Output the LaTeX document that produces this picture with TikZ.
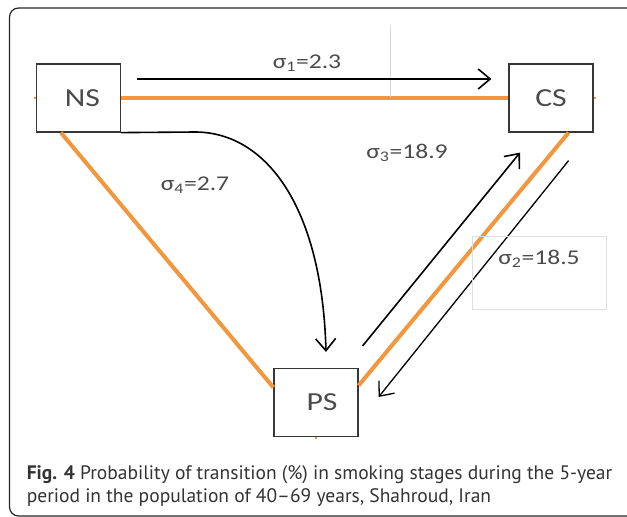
\documentclass[tikz,border=0pt]{standalone}
\usepackage{fontspec}
\setmainfont{PT Sans}
\newfontfamily\calibri[FakeStretch=1.22]{Carlito}
\usepackage{xcolor}
\usetikzlibrary{arrows.meta}
\definecolor{linkorange}{RGB}{243,150,62}
\definecolor{boxgray}{RGB}{55,55,55}
\definecolor{textgray}{RGB}{75,75,75}

\begin{document}
\begin{tikzpicture}[
			x=1pt, y=-1pt,
			>={Straight Barb[length=12pt,width=20pt]}, line width=1.6pt,
			stage/.style={draw=boxgray,fill=white,line width=1.2pt,minimum width=84pt,minimum height=68pt,
					inner sep=0pt,font=\calibri\fontsize{26}{30}\selectfont,text=textgray}, % smoking stage box
			link/.style={draw=linkorange,line width=4pt}, % orange edge of the triangle
			rate/.style={font=\calibri\fontsize{21}{25}\selectfont,text=textgray,inner sep=0pt}, % transition label
			caption/.style={anchor=base west,inner sep=0pt,font=\fontsize{19.5}{23}\selectfont,text=black!80},
		]
		\useasboundingbox (0,0) rectangle (627,517);
		\draw[rounded corners=9pt,line width=1.2pt,draw=black!85] (9.5,8) rectangle (660,516);

		% --- the three stages
		\node[stage] (ns) at (78.5,98) {\hspace{8pt}NS};
		\node[stage] (cs) at (551,98) {CS};
		\node[stage] (ps) at (316,402.5) {\hspace{12pt}PS};

		% --- orange triangle
		\draw[link] (ns.east) -- (cs.west);
		\draw[link] ([xshift=25pt]ns.south west) -- ([yshift=15pt]ps.west);
		\draw[link] ([xshift=-25pt]cs.south east) -- ([yshift=17pt]ps.east);
		\draw[link,line width=2pt] ([xshift=-2pt]ns.west) -- (ns.west);
		\draw[link,line width=2pt] (cs.east) -- ([xshift=2pt]cs.east);
		\draw[link,line width=2pt] (ps.south) -- ([yshift=-2pt]ps.south);
		\draw[gray!30,line width=0.5pt] (390,25) -- (390,97);

		% --- end points of the transition arrows
		\path (ns.east) ++(16,-19) coordinate (a1);
		\path (cs.west) ++(-17,-19) coordinate (b1);
		\path (ps.north) ++(10,-16) coordinate (b4);
		\path (ps.north east) ++(4,-22) coordinate (a3);
		\path (cs.south) ++(-31,20) coordinate (b3);
		\path (cs.south east) ++(-25,28) coordinate (a2);
		\path (ps.east) ++(20,-5.5) coordinate (b2);

		% --- transitions
		\draw[->] (a1) -- (b1);
		\draw[->] (ns.south east) -- (195,132) .. controls (265,132) and (322,205) .. (b4);
		\draw[->] (a3) -- (b3);
		\draw[->,line width=1.3pt] (a2) -- (b2);

		% --- rates
		\node[rate] (r1) at (307,63) {σ\textsubscript{1}=2.3};
		\node[rate] (r4) at (195,185) {σ\textsubscript{4}=2.7};
		\node[rate] (r3) at (407,153) {σ\textsubscript{3}=18.9};
		\node[rate,draw=gray!25,line width=0.8pt,minimum width=134pt,minimum height=73pt,
			text depth=30pt] (r2) at (539,272.5) {σ\textsubscript{2}=18.5};

		% --- caption
		\node[caption] (cap1) at (26,479) {\textbf{Fig. 4} Probability of transition (\%) in smoking stages during the 5-year};
		\node[caption] (cap2) at (26,502) {period in the population of 40--69 years, Shahroud, Iran};
	\end{tikzpicture}
\end{document}
